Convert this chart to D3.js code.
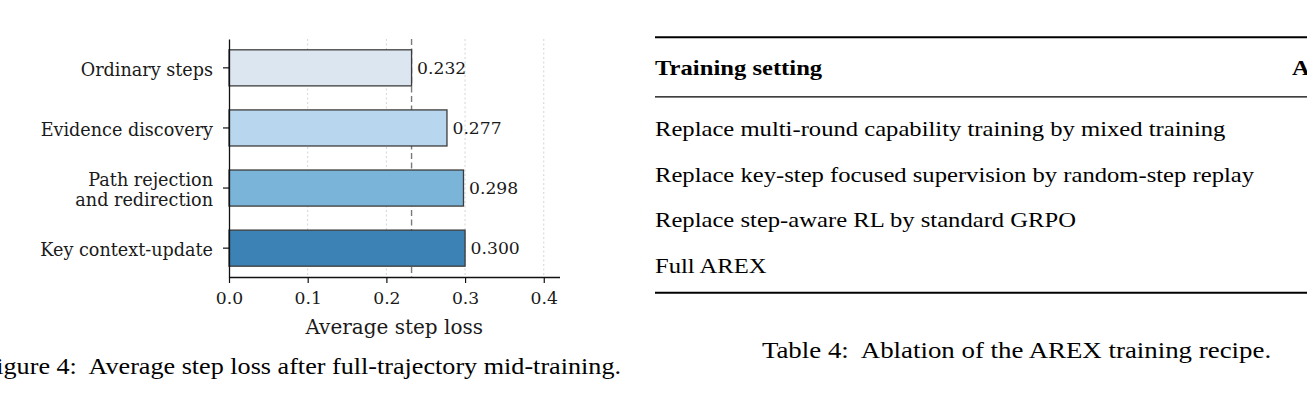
<!DOCTYPE html>
<html>
<head>
<meta charset="utf-8">
<script src="https://cdn.jsdelivr.net/npm/d3@7"></script>
<style>
  html, body { margin: 0; padding: 0; background: #fff; }
  svg { display: block; }
</style>
</head>
<body>
<svg id="chart" width="1307" height="420"></svg>
<script>
// ---------------- data ----------------
const categories = ["Ordinary steps", "Evidence discovery", "Path rejection\nand redirection", "Key context-update"];
const values = [0.232, 0.277, 0.298, 0.300];
const valueLabels = ["0.232", "0.277", "0.298", "0.300"];
const barColors = ["#dce6f0", "#b8d7ee", "#7bb4d9", "#3d82b5"];
const referenceValue = 0.232;
const xTicks = [0.0, 0.1, 0.2, 0.3, 0.4];
const xTickLabels = ["0.0", "0.1", "0.2", "0.3", "0.4"];
const xDomain = [0, 0.42];
const xAxisTitle = "Average step loss";
const figureCaption = "Figure 4:\u00a0 Average step loss after full-trajectory mid-training.";

const tableHeader = ["Training setting", "A"];
const tableRows = [
  "Replace multi-round capability training by mixed training",
  "Replace key-step focused supervision by random-step replay",
  "Replace step-aware RL by standard GRPO",
  "Full AREX"
];
const tableCaption = "Table 4:\u00a0 Ablation of the AREX training recipe.";

// ---------------- layout ----------------
const svg = d3.select("#chart");
const plotLeft = 229, plotRight = 559.5, plotTop = 39, plotBottom = 277;
const serif = "'DejaVu Serif', serif";
const times = "'Liberation Serif', 'Times New Roman', serif";
const tickFont = 17.6;

const x = d3.scaleLinear().domain(xDomain).range([plotLeft, plotRight]);
const y = d3.scaleBand().domain(categories).range([plotTop, plotBottom])
  .paddingInner(0.4).paddingOuter(0.18);

// grid lines
svg.append("g").selectAll("line").data(xTicks.filter(d => d > 0)).join("line")
  .attr("x1", d => x(d)).attr("x2", d => x(d))
  .attr("y1", plotTop).attr("y2", plotBottom)
  .attr("stroke", "#d4d4d4").attr("stroke-width", 1)
  .attr("stroke-dasharray", "2,2.5");

// reference dashed line
svg.append("line")
  .attr("x1", x(referenceValue)).attr("x2", x(referenceValue))
  .attr("y1", plotTop).attr("y2", plotBottom)
  .attr("stroke", "#7a7a7a").attr("stroke-width", 1.4)
  .attr("stroke-dasharray", "6,3.5");

// bars
svg.append("g").selectAll("rect").data(categories).join("rect")
  .attr("x", x(0))
  .attr("y", d => y(d))
  .attr("width", (d, i) => x(values[i]) - x(0))
  .attr("height", y.bandwidth())
  .attr("fill", (d, i) => barColors[i])
  .attr("stroke", "#3c3c3c").attr("stroke-width", 1.3);

// value labels
svg.append("g").selectAll("text").data(categories).join("text")
  .attr("x", (d, i) => x(values[i]) + 5.5)
  .attr("y", d => y(d) + y.bandwidth() / 2 + 6)
  .attr("font-family", serif).attr("font-size", 17.2).attr("fill", "#1a1a1a")
  .text((d, i) => valueLabels[i]);

// x axis
const xAxis = d3.axisBottom(x).tickValues(xTicks)
  .tickFormat((d, i) => xTickLabels[i]).tickSize(6).tickSizeOuter(0).tickPadding(9);
const gx = svg.append("g").attr("transform", `translate(0,${plotBottom})`).call(xAxis);
gx.select(".domain").attr("stroke", "#111").attr("stroke-width", 1.3);
gx.selectAll(".tick line").attr("stroke", "#111").attr("stroke-width", 1.2);
gx.selectAll(".tick text").attr("font-family", serif).attr("font-size", 17.2).attr("fill", "#1a1a1a");

// y axis
const yAxis = d3.axisLeft(y).tickSize(6).tickSizeOuter(0).tickPadding(10);
const gy = svg.append("g").attr("transform", `translate(${plotLeft},0)`).call(yAxis);
gy.select(".domain").attr("stroke", "#111").attr("stroke-width", 1.3);
gy.selectAll(".tick line").attr("stroke", "#111").attr("stroke-width", 1.2);
gy.selectAll(".tick text").each(function(d) {
  const t = d3.select(this);
  const lines = d.split("\n");
  t.text(null).attr("dy", null)
    .attr("font-family", serif).attr("font-size", tickFont).attr("fill", "#1a1a1a");
  lines.forEach((ln, k) => {
    t.append("tspan").attr("x", -16)
      .attr("dy", k === 0 ? (7.7 - (lines.length - 1) * 10) : 20)
      .text(ln);
  });
});

// x axis title
svg.append("text")
  .attr("x", (plotLeft + plotRight) / 2).attr("y", 334)
  .attr("text-anchor", "middle")
  .attr("font-family", serif).attr("font-size", 20).attr("fill", "#1a1a1a")
  .text(xAxisTitle);

// figure caption
svg.append("text")
  .attr("transform", `translate(621,374) scale(1.09,1)`)
  .attr("text-anchor", "end")
  .attr("font-family", times).attr("font-size", 24).attr("fill", "#000")
  .text(figureCaption);

// ---------------- table ----------------
const tLeft = 655;
const sx = 1.12;
const rules = [
  {y: 37.3, w: 2},
  {y: 96.8, w: 1.2},
  {y: 292.7, w: 2}
];
svg.append("g").selectAll("line").data(rules).join("line")
  .attr("x1", tLeft).attr("x2", 1310)
  .attr("y1", d => d.y).attr("y2", d => d.y)
  .attr("stroke", "#000").attr("stroke-width", d => d.w);

svg.append("text")
  .attr("transform", `translate(${tLeft},74.5) scale(${sx},1)`)
  .attr("font-family", times).attr("font-size", 22).attr("font-weight", "bold")
  .text(tableHeader[0]);
svg.append("text")
  .attr("transform", `translate(1292,74.5) scale(${sx},1)`)
  .attr("font-family", times).attr("font-size", 22).attr("font-weight", "bold")
  .text(tableHeader[1]);

const rowY = d3.scalePoint().domain(d3.range(tableRows.length)).range([136, 273]);
svg.append("g").selectAll("text").data(tableRows).join("text")
  .attr("transform", (d, i) => `translate(${tLeft},${rowY(i)}) scale(${sx},1)`)
  .attr("font-family", times).attr("font-size", 22).attr("fill", "#000")
  .text(d => d);

svg.append("text")
  .attr("transform", `translate(1016.5,358) scale(1.12,1)`)
  .attr("text-anchor", "middle")
  .attr("font-family", times).attr("font-size", 24).attr("fill", "#000")
  .text(tableCaption);
</script>
</body>
</html>
